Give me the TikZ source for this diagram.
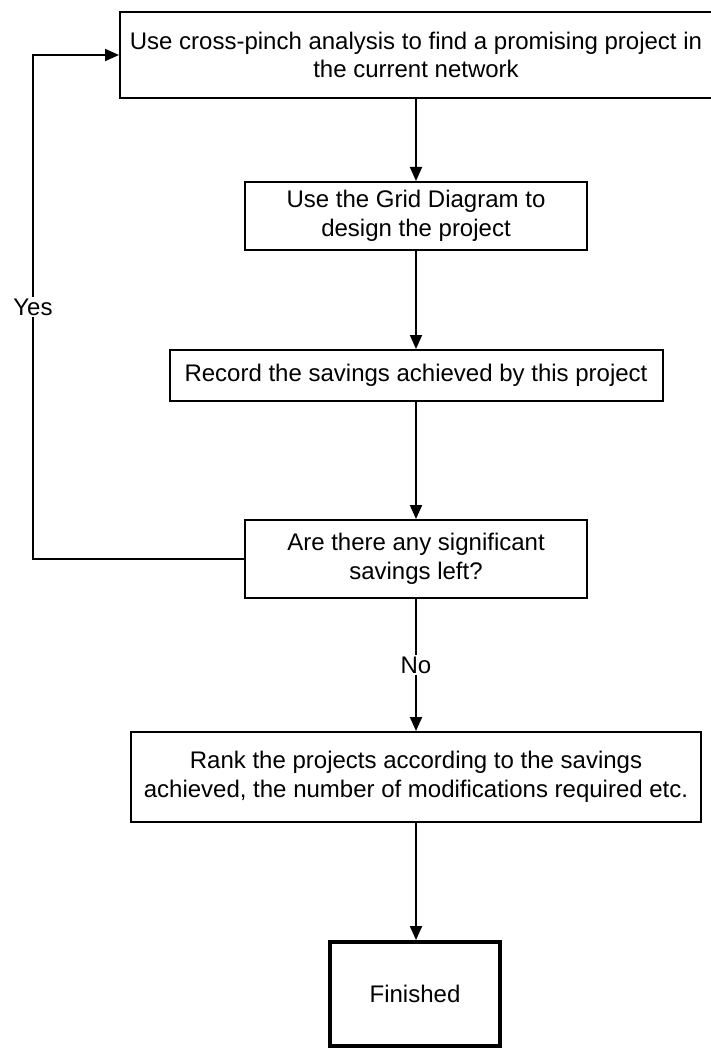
\documentclass[tikz,border=0pt]{standalone}
\usepackage{fontspec}
\setmainfont{Liberation Sans}
\usetikzlibrary{arrows.meta}

\begin{document}
\begin{tikzpicture}[x=1pt,y=-1pt,
	box/.style={draw, line width=2pt, align=center, inner sep=0pt, font=\fontsize{24}{28.5}\selectfont},
	endbox/.style={box, line width=4pt},
	arrow/.style={line width=2pt, -{Triangle[length=14pt,width=12pt]}},
	tag/.style={fill=white, inner sep=2pt, font=\fontsize{24}{28.5}\selectfont}
	]
	\useasboundingbox (0,0) rectangle (711,1048);
	\node[box, minimum width=592pt, minimum height=86pt] (find) at (416,55)
	{Use cross-pinch analysis to find a promising project in\\the current network};
	\node[box, minimum width=342pt, minimum height=68pt] (grid) at (416,216)
	{Use the Grid Diagram to\\design the project};
	\node[box, minimum width=493pt, minimum height=51pt] (record) at (416,375.5)
	{Record the savings achieved by this project};
	\node[box, minimum width=342pt, minimum height=78pt] (left) at (416,559)
	{Are there any significant\\savings left?};
	\node[box, minimum width=570pt, minimum height=90pt] (rank) at (416,777)
	{Rank the projects according to the savings\\achieved, the number of modifications required etc.};
	\node[endbox, minimum width=170pt, minimum height=104pt] (done) at (415,994) {Finished};
	\coordinate (bend) at (33,559);
	% connectors
	\draw[arrow] (find) -- (grid);
	\draw[arrow] (grid) -- (record);
	\draw[arrow] (record) -- (left);
	\draw[arrow] (left) -- node[tag] {No} (rank);
	\draw[arrow] (rank.south) -- (rank.south |- done.north);
	\draw[arrow] (left.west) -- (bend) |- node[tag, pos=0.25] {Yes} (find.west);
\end{tikzpicture}
\end{document}
